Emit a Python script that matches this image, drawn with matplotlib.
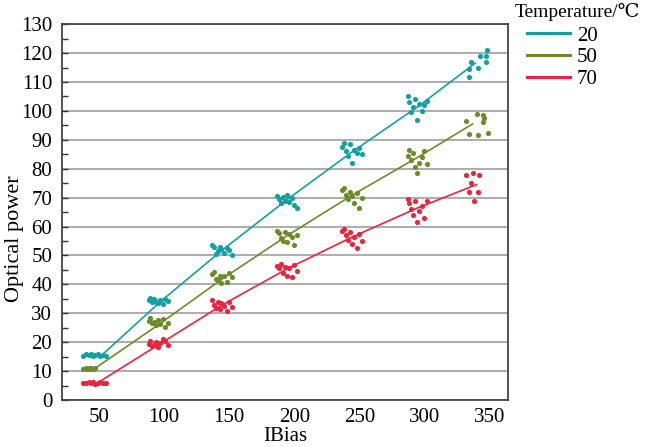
import numpy as np
import matplotlib
matplotlib.use("Agg")
from matplotlib import pyplot as plt
from matplotlib.ticker import MultipleLocator
from matplotlib.lines import Line2D

plt.rcParams['font.family'] = ['Liberation Serif', 'DejaVu Serif']

bias_ticks = [50, 100, 150, 200, 250, 300, 350]
temperatures = ["20", "50", "70"]
colors = ["#12a0a3", "#6e8b2b", "#e8243f"]

# measured points (jittered around each bias level)
x20 = [38, 40, 42, 44, 45, 47, 49, 51, 53, 55,
       88, 89, 91, 92, 94, 95, 97, 99, 101, 103,
       137, 138, 140, 141, 143, 144, 146, 148, 150, 152,
       187, 188, 190, 191, 193, 194, 196, 198, 200, 202,
       237, 238, 240, 241, 243, 244, 246, 248, 250, 252,
       287, 288, 290, 291, 293, 294, 296, 298, 300, 302,
       334, 334, 336, 341, 343, 347, 348, 347]
y20 = [15.3, 15.8, 15.5, 16.0, 15.2, 15.6, 15.9, 15.4, 15.7, 15.3,
       34.5, 35.3, 33.8, 34.9, 34.0, 33.4, 34.6, 33.2, 35.0, 34.2,
       53.5, 52.8, 50.5, 51.5, 53.0, 52.2, 51.0, 52.5, 51.8, 50.2,
       70.5, 69.5, 68.0, 70.2, 69.0, 70.8, 68.5, 70.0, 67.5, 66.5,
       87.5, 89.0, 86.0, 84.5, 88.5, 82.0, 86.5, 85.5, 87.0, 85.0,
       105.0, 103.0, 99.5, 101.5, 104.0, 97.0, 102.5, 100.0, 102.0, 103.5,
       114.5, 111.7, 117.0, 115.0, 119.0, 117.0, 121.0, 119.0]

x50 = [38, 40, 41, 42, 43, 44, 45, 47,
       88, 89, 91, 92, 94, 95, 97, 99, 101, 103,
       137, 138, 140, 141, 143, 144, 146, 148, 150, 152,
       187, 188, 190, 191, 193, 194, 196, 198, 200, 202,
       237, 238, 240, 241, 243, 244, 246, 248, 250, 252,
       287, 288, 290, 291, 293, 294, 296, 298, 300, 302,
       332, 334, 340, 341, 345, 346, 345, 349]
y50 = [10.6, 11.0, 10.8, 11.2, 10.7, 11.0, 10.9, 11.1,
       27.5, 28.3, 26.5, 27.0, 25.8, 27.8, 26.2, 28.0, 25.3, 26.8,
       43.5, 44.2, 42.0, 41.5, 43.0, 40.5, 42.8, 41.0, 44.0, 42.5,
       58.5, 57.8, 56.0, 55.0, 58.2, 54.5, 57.5, 56.5, 53.5, 57.0,
       72.8, 73.5, 71.0, 69.5, 72.0, 70.5, 68.0, 71.5, 66.5, 70.0,
       84.5, 86.5, 83.0, 85.5, 80.5, 78.5, 82.0, 84.0, 86.0, 81.5,
       96.5, 92.0, 99.0, 91.7, 98.5, 97.5, 96.0, 92.5]

x70 = [38, 40, 42, 44, 45, 47, 49, 51, 53, 55,
       88, 89, 91, 92, 94, 95, 97, 99, 101, 103,
       137, 138, 140, 141, 143, 144, 146, 148, 150, 152,
       187, 188, 190, 191, 193, 194, 196, 198, 200, 202,
       237, 238, 240, 241, 243, 244, 246, 248, 250, 252,
       287, 288, 290, 291, 293, 294, 296, 298, 300, 302,
       332, 337, 342, 336, 334, 341, 338]
y70 = [5.8, 6.0, 6.2, 5.9, 6.1, 5.7, 6.0, 6.3, 5.8, 6.0,
       19.5, 20.5, 18.8, 19.0, 20.0, 18.2, 19.8, 21.0, 20.3, 19.2,
       34.5, 33.0, 32.0, 34.0, 31.5, 33.5, 32.5, 30.8, 33.8, 32.2,
       46.5, 45.5, 47.0, 44.0, 46.0, 43.0, 45.8, 42.5, 46.8, 44.5,
       58.5, 59.2, 57.0, 55.5, 58.0, 54.0, 56.5, 52.5, 57.5, 55.0,
       69.5, 68.0, 66.0, 64.0, 68.8, 61.5, 65.5, 67.0, 63.0, 69.0,
       78.0, 78.5, 77.8, 75.0, 72.0, 72.0, 69.0]

# fitted trend lines
fit_x20 = [52, 97, 145, 195, 245, 295, 339]
fit_y20 = [15.5, 34, 52, 69.5, 86, 101.5, 116.5]
fit_x50 = [47, 97, 145, 195, 245, 295, 337]
fit_y50 = [11, 26.5, 42, 57, 71, 84, 95.5]
fit_x70 = [49, 97, 145, 195, 245, 295, 340]
fit_y70 = [6, 19.5, 33, 45.5, 56.5, 66.5, 74.5]

fig = plt.figure(figsize=(6.46, 4.47), dpi=100)
ax = fig.add_axes([0.096, 0.105, 0.69, 0.841])

points = [(x20, y20), (x50, y50), (x70, y70)]
fits = [(fit_x20, fit_y20), (fit_x50, fit_y50), (fit_x70, fit_y70)]
for (px, py), (fx, fy), c in zip(points, fits, colors):
    ax.scatter(px, py, s=14, color=c, zorder=3, linewidths=0)
    ax.plot(fx, fy, color=c, lw=1.2, zorder=3)

ax.set_xlim(21.5, 364)
ax.set_ylim(0, 130)
ax.set_xticks(bias_ticks)
ax.yaxis.set_major_locator(MultipleLocator(10))
ax.yaxis.set_minor_locator(MultipleLocator(5))
ax.grid(axis='y', which='major', color='#a6a6a6', lw=1.3, zorder=0)
ax.tick_params(axis='x', length=0, labelsize=15, pad=6)
ax.tick_params(axis='y', which='both', direction='in', length=4, width=1,
               labelsize=15, pad=7, color='#333333')
for s in ax.spines.values():
    s.set_color('#444444')
    s.set_linewidth(1.3)

ax.set_xlabel("IBias", fontsize=15, labelpad=0)
ax.set_ylabel("Optical power", fontsize=16, labelpad=4)
ax.yaxis.set_label_coords(-0.085, 0.43)

# legend: title and entries placed to the right of the axes
fig.text(515 / 646, 1 - 12 / 447, "Temperature/℃", fontsize=14, ha='left', va='center')
handles = [Line2D([], [], color=c, lw=2.2) for c in colors]
fig.legend(handles, temperatures, loc='upper left', bbox_to_anchor=(527 / 646, 1 - 26 / 447),
           frameon=False, fontsize=15, borderpad=0, borderaxespad=0,
           handlelength=2.05, handletextpad=0.35, labelspacing=0.1)

fig.savefig("out.png", dpi=100)
